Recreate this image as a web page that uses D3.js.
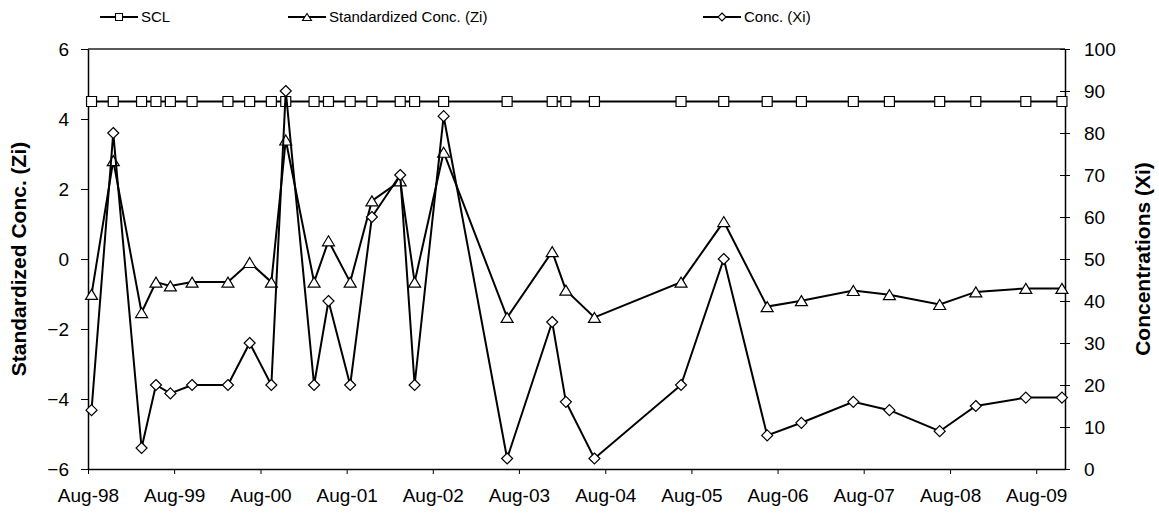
<!DOCTYPE html>
<html><head><meta charset="utf-8">
<script src="https://cdn.jsdelivr.net/npm/d3@7/dist/d3.min.js"></script>
<style>
html,body{margin:0;padding:0;background:#fff;}
text{font-family:"Liberation Sans",Arial,sans-serif;fill:#000;}
</style></head>
<body>
<svg id="chart" width="1159" height="514"></svg>
<script>
// ---- data ----
const sampleDates = ["1998-08-16","1998-11-16","1999-03-16","1999-05-16","1999-07-16","1999-10-16","2000-03-16","2000-06-16","2000-09-16","2000-11-16","2001-03-16","2001-05-16","2001-08-16","2001-11-16","2002-03-16","2002-05-16","2002-09-16","2003-06-12","2003-12-20","2004-02-16","2004-06-16","2005-06-18","2005-12-16","2006-06-18","2006-11-10","2007-06-18","2007-11-18","2008-06-18","2008-11-18","2009-06-18","2009-11-18"];
const concXi = [14,80,5,20,18,20,20,30,20,90,20,40,20,60,70,20,84,2.5,35,16,2.5,20,50,8,11,16,14,9,15,17,17];
const zi = [-1.01,2.81,-1.53,-0.66,-0.77,-0.66,-0.66,-0.1,-0.66,3.4,-0.66,0.52,-0.66,1.66,2.23,-0.66,3.05,-1.67,0.21,-0.89,-1.67,-0.66,1.07,-1.36,-1.19,-0.9,-1.02,-1.3,-0.94,-0.84,-0.84];
const sclValue = 4.5;
const scl = sampleDates.map(() => sclValue);
const xTickDates = ["1998-08-01","1999-08-01","2000-08-01","2001-08-01","2002-08-01","2003-08-01","2004-08-01","2005-08-01","2006-08-01","2007-08-01","2008-08-01","2009-08-01"];
const leftTicks = [-6,-4,-2,0,2,4,6];
const rightTicks = [0,10,20,30,40,50,60,70,80,90,100];
const seriesNames = ["SCL","Standardized Conc. (Zi)","Conc. (Xi)"];
const leftTitle = "Standardized Conc. (Zi)";
const rightTitle = "Concentrations (Xi)";

// ---- layout ----
const parse = d3.timeParse("%Y-%m-%d");
const L = 88, R = 1065, T = 49, B = 469;
const svg = d3.select("#chart");

const x = d3.scaleTime().domain([parse("1998-08-01"), parse("2009-12-01")]).range([L, R]);
const yL = d3.scaleLinear().domain([-6, 6]).range([B, T]);
const yR = d3.scaleLinear().domain([0, 100]).range([B, T]);

// frame
svg.append("line").attr("x1", L).attr("x2", R).attr("y1", T).attr("y2", T)
  .attr("stroke", "#222").attr("stroke-width", 1.5);

// axes
const fmt = d3.timeFormat("%b-%y");
const gx = svg.append("g").attr("transform", `translate(0,${B})`)
  .call(d3.axisBottom(x).tickValues(xTickDates.map(parse)).tickFormat(fmt).tickSizeInner(5).tickSizeOuter(0).tickPadding(15));
const gl = svg.append("g").attr("transform", `translate(${L},0)`)
  .call(d3.axisLeft(yL).tickValues(leftTicks).tickFormat(d3.format("d")).tickSizeInner(7).tickSizeOuter(0).tickPadding(12));
const gr = svg.append("g").attr("transform", `translate(${R},0)`)
  .call(d3.axisRight(yR).tickValues(rightTicks).tickFormat(d3.format("d")).tickSizeInner(5).tickSizeOuter(0).tickPadding(14));
gr.selectAll(".tick line").attr("x1", -5).attr("x2", 5);
[gx, gl, gr].forEach(g => {
  g.select(".domain").attr("stroke", "#000").attr("stroke-width", 1.5);
  g.selectAll(".tick line").attr("stroke", "#000").attr("stroke-width", 1);
  g.selectAll(".tick text").style("font-family", '"Liberation Sans",Arial,sans-serif')
    .style("font-size", "19px").attr("fill", "#000");
});
gx.selectAll(".tick text").attr("dy", "0.71em");

// axis titles
svg.append("text").attr("transform", `translate(26,259) rotate(-90)`)
  .attr("text-anchor", "middle").style("font-size", "21px").style("font-weight", "bold").text(leftTitle);
svg.append("text").attr("transform", `translate(1150,259) rotate(-90)`)
  .attr("text-anchor", "middle").style("font-size", "21px").style("font-weight", "bold").text(rightTitle);

// marker shapes
function squarePath(s){const h=s/2;return `M${-h},${-h}H${h}V${h}H${-h}Z`;}
function trianglePath(w,h){return `M0,${-h/2}L${w/2},${h/2}L${-w/2},${h/2}Z`;}
function diamondPath(s){const h=s/2;return `M0,${-h}L${h},0L0,${h}L${-h},0Z`;}

const pts = sampleDates.map((d,i) => ({date: parse(d), scl: scl[i], zi: zi[i], xi: concXi[i]}));

function drawSeries(accessor, yScale, shape){
  const line = d3.line().x(d => x(d.date)).y(d => yScale(accessor(d)));
  svg.append("path").datum(pts).attr("d", line).attr("fill", "none")
    .attr("stroke", "#000").attr("stroke-width", 2).attr("stroke-linejoin", "miter");
  svg.append("g").selectAll("path").data(pts).join("path")
    .attr("transform", d => `translate(${x(d.date)},${yScale(accessor(d))})`)
    .attr("d", shape).attr("fill", "#fff").attr("stroke", "#000").attr("stroke-width", 1.2);
}
drawSeries(d => d.scl, yL, squarePath(10));
drawSeries(d => d.zi, yL, trianglePath(12, 10));
drawSeries(d => d.xi, yR, diamondPath(11));

// legend
const legendItems = [
  {name: seriesNames[0], x0: 100, shape: squarePath(7)},
  {name: seriesNames[1], x0: 288, shape: trianglePath(9, 7)},
  {name: seriesNames[2], x0: 703, shape: diamondPath(8)}
];
const lg = svg.append("g");
legendItems.forEach(it => {
  const g = lg.append("g").attr("transform", `translate(${it.x0},17)`);
  g.append("line").attr("x1", 0).attr("x2", 38).attr("stroke", "#000").attr("stroke-width", 1.8);
  g.append("path").attr("transform", "translate(19,0)").attr("d", it.shape)
    .attr("fill", "#fff").attr("stroke", "#000").attr("stroke-width", 1.1);
  g.append("text").attr("x", 41).attr("y", 0).attr("dy", "0.35em")
    .style("font-size", "15px").text(it.name);
});
</script>
</body></html>
